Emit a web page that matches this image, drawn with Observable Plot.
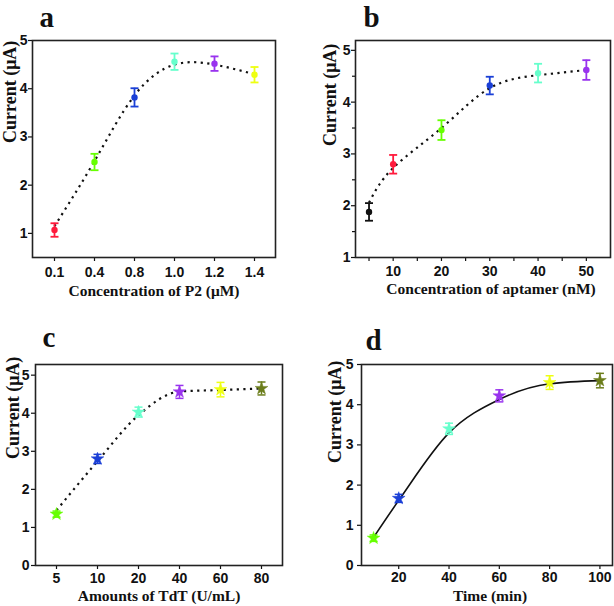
<!DOCTYPE html>
<html><head><meta charset="utf-8">
<script src="https://cdn.jsdelivr.net/npm/d3@7"></script>
<script src="https://cdn.jsdelivr.net/npm/@observablehq/plot@0.6"></script>
<style>
body{margin:0;background:#fff;}
#wrap{position:relative;width:614px;height:606px;background:#fff;}
.panel{position:absolute;}
</style></head><body><div id="wrap"></div>
<script>
// Panel a
const aX = ["0.1","0.4","0.8","1.0","1.2","1.4"];
const aMean = [1.07,2.48,3.82,4.56,4.52,4.29];
const aErr = [0.14,0.17,0.19,0.17,0.15,0.16];
const aFit = [1.15,2.5,3.86,4.5,4.5,4.3];
const aColors = ["#ff1a3c","#66ff00","#1a3fd6","#66ffcc","#9933ee","#eeff11"];
// Panel b
const bX = [5,10,20,30,40,50];
const bMean = [1.88,2.8,3.46,4.32,4.56,4.62];
const bErr = [0.17,0.18,0.19,0.17,0.18,0.19];
const bFit = [2.06,2.73,3.5,4.27,4.52,4.62];
const bColors = ["#111111","#ff1a3c","#66ff00","#1a3fd6","#66ffcc","#9933ee"];
const bMajorX = [10,20,30,40,50];
const bMinorX = [5,15,25,35,45];
const bMajorY = [1,2,3,4,5];
const bMinorY = [1.5,2.5,3.5,4.5];
// Panel c
const cX = ["5","10","20","40","60","80"];
const cMean = [1.35,2.8,4.03,4.56,4.62,4.65];
const cErr = [0.08,0.12,0.13,0.17,0.19,0.17];
const cFit = [1.45,2.74,3.95,4.57,4.61,4.65];
const cColors = ["#66ff00","#1a3fd6","#66ffcc","#9933ee","#eeff11","#6b7d1a"];
// Panel d
const dX = [10,20,40,60,80,100];
const dMean = [0.68,1.67,3.4,4.22,4.55,4.6];
const dErr = [0.08,0.1,0.14,0.15,0.17,0.18];
const dFit = [0.7,1.62,3.3,4.13,4.52,4.6];
const dColors = ["#66ff00","#1a3fd6","#66ffcc","#9933ee","#eeff11","#6b7d1a"];

const yTitle = "Current (μA)";
const serif = "'Liberation Serif', 'Times New Roman', serif";
const sans = "'Liberation Sans', Arial, sans-serif";

const capSymbol = {draw(ctx, size){ const w = Math.sqrt(size/Math.PI); ctx.moveTo(-w,0); ctx.lineTo(w,0); }};

function rows(xs, means, errs, colors){
  return xs.map((x,i)=>({x, y:means[i], lo:means[i]-errs[i], hi:means[i]+errs[i], color:colors[i]}));
}
function fitRows(xs, fit){ return xs.map((x,i)=>({x, y:fit[i]})); }

function panel(cfg){
  const data = rows(cfg.xs, cfg.means, cfg.errs, cfg.colors);
  const fit = fitRows(cfg.xs, cfg.fit);
  const axisText = {fontSize:14, fontWeight:"bold", fontFamily:sans, fill:"#111", stroke:"#111", tickFormat: d => String(d)};
  const ebw = cfg.star ? 1.5 : 1.8;
  const marks = [
    Plot.line(fit, {x:"x", y:"y", curve:cfg.curve, stroke:"#111", strokeWidth: cfg.solid ? 1.6 : 2.2,
      strokeLinecap:"butt", strokeDasharray: cfg.solid ? null : "2.2,4.4"}),
    Plot.ruleX(data, {x:"x", y1:"lo", y2:"hi", stroke:"color", strokeWidth:ebw}),
    Plot.dot(data, {x:"x", y:"lo", symbol:capSymbol, r:4, stroke:"color", strokeWidth:ebw}),
    Plot.dot(data, {x:"x", y:"hi", symbol:capSymbol, r:4, stroke:"color", strokeWidth:ebw}),
    cfg.star
      ? Plot.dot(data, {x:"x", y:"y", symbol:"star", r:4, fill:"color", stroke:"color", strokeWidth:0.5})
      : Plot.dot(data, {x:"x", y:"y", r:3.2, fill:"color", stroke:"none"}),
    Plot.axisY({ticks: cfg.yTicks, tickSize:4, tickPadding: cfg.yPad, label:null, ...axisText, strokeWidth:1.2}),
    Plot.axisX({ticks: cfg.xTicks, tickSize:4, tickPadding: cfg.xPad, label:null, ...axisText, strokeWidth:1.2}),
    ...(cfg.xMinor ? [Plot.axisX({ticks: cfg.xMinor, tickSize:4, label:null, fill:"none", stroke:"#111", strokeWidth:1.2})] : []),
    ...(cfg.yMinor ? [Plot.axisY({ticks: cfg.yMinor, tickSize:3, label:null, fill:"none", stroke:"#111", strokeWidth:1.2})] : []),
    Plot.frame({stroke:"#222", strokeWidth:1.6}),
    Plot.text([cfg.xTitle], {frameAnchor:"bottom", lineAnchor:"bottom", dx:cfg.xtDx, dy:cfg.xtDy,
      fontFamily:serif, fontWeight:"bold", fontSize:15.5, fill:"#111"}),
    Plot.text([yTitle], {frameAnchor:"left", lineAnchor:"bottom", rotate:-90, dx:cfg.ytDx, dy:cfg.ytDy,
      fontFamily:serif, fontWeight:"bold", fontSize:18, fill:"#111"}),
    Plot.text([cfg.label], {frameAnchor:"top-left", textAnchor:"start", lineAnchor:"bottom",
      dx:cfg.lDx, dy:cfg.lDy, fontFamily:serif, fontWeight:"bold", fontSize:29, fill:"#111"})
  ];
  const svg = Plot.plot({
    width:307, height:303,
    marginLeft:cfg.m[3], marginRight:cfg.m[1], marginTop:cfg.m[0], marginBottom:cfg.m[2],
    x: cfg.xScale,
    y: {domain: cfg.yDomain},
    color: {type:"identity"},
    style: {fontFamily: sans, fontWeight:"bold", fontSize:"14px", background:"#fff", overflow:"visible"},
    marks
  });
  const div = document.createElement("div");
  div.className = "panel";
  div.style.left = cfg.pos[0]+"px";
  div.style.top = cfg.pos[1]+"px";
  div.appendChild(svg);
  document.getElementById("wrap").appendChild(div);
}

panel({label:"a", pos:[0,0], m:[40,32,46,32], xs:aX, means:aMean, errs:aErr, fit:aFit, colors:aColors,
  curve:"natural", xScale:{type:"point", domain:aX, padding:0.5}, yDomain:[0.5,5],
  yTicks:[1,2,3,4,5], xTicks:aX, yPad:1, xPad:6,
  xTitle:"Concentration of P2 (μM)", xtDx:0, xtDy:38, ytDx:-17, ytDy:-6, lDx:7, lDy:-14});

panel({label:"b", pos:[307,0], m:[40,4,46,48], xs:bX, means:bMean, errs:bErr, fit:bFit, colors:bColors,
  curve:"natural", xScale:{type:"linear", domain:[2.2,55]}, yDomain:[1,5.19],
  yTicks:bMajorY, yMinor:bMinorY, xTicks:bMajorX, xMinor:bMinorX, yPad:1, xPad:5,
  xTitle:"Concentration of aptamer (nM)", xtDx:8, xtDy:36, ytDx:-20, ytDy:-3, lDx:8, lDy:-14});

panel({label:"c", pos:[0,303], m:[61,25,41,35], xs:cX, means:cMean, errs:cErr, fit:cFit, colors:cColors, star:true,
  curve:"monotone-x", xScale:{type:"point", domain:cX, padding:0.5}, yDomain:[0,5.28],
  yTicks:[0,1,2,3,4,5], xTicks:cX, yPad:2, xPad:4,
  xTitle:"Amounts of TdT (U/mL)", xtDx:0, xtDy:35, ytDx:-17, ytDy:-6, lDx:7, lDy:-18});

panel({label:"d", pos:[307,303], m:[61,2,41,54], xs:dX, means:dMean, errs:dErr, fit:dFit, colors:dColors, star:true, solid:true,
  curve:"monotone-x", xScale:{type:"linear", domain:[5.2,105]}, yDomain:[0,5],
  yTicks:[0,1,2,3,4,5], xTicks:[20,40,60,80,100], yPad:4, xPad:3,
  xTitle:"Time (min)", xtDx:3, xtDy:35, ytDx:-21, ytDy:-2, lDx:4, lDy:-15});
</script></body></html>
